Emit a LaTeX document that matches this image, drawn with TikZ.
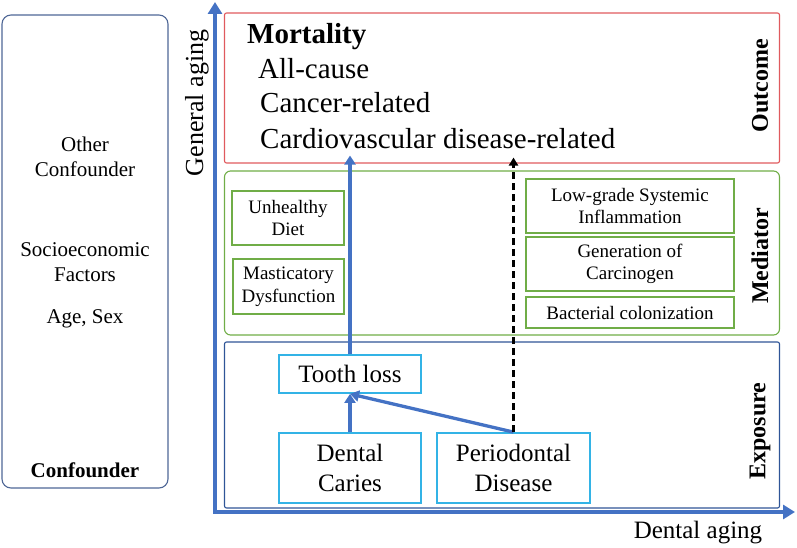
\documentclass[tikz,border=0pt]{standalone}
\usepackage{fontspec}
\setmainfont{LiberationSerif}[Extension=.ttf, UprightFont=*-Regular, BoldFont=*-Bold, ItalicFont=*-Italic, BoldItalicFont=*-BoldItalic]
\usetikzlibrary{arrows.meta}
\definecolor{axisblue}{HTML}{4472C4}
\definecolor{outred}{HTML}{E05A5E}
\definecolor{medgreen}{HTML}{70AD47}
\definecolor{expblue}{HTML}{2F5597}
\definecolor{boxcyan}{HTML}{33B3E6}
\definecolor{confblue}{HTML}{4F6796}
\tikzset{
  panel/.style={draw, line width=1.1pt, inner sep=0pt},
  medbox/.style={draw=medgreen, line width=1.4pt, align=center, inner sep=0pt, font=\rmfamily\fontsize{19}{22.7}\selectfont},
  expbox/.style={draw=boxcyan, line width=1.8pt, align=center, inner sep=0pt, font=\rmfamily\fontsize{25}{30}\selectfont},
  sidelabel/.style={rotate=90, font=\rmfamily\fontsize{24}{28}\selectfont\bfseries},
  outtext/.style={anchor=base west, inner sep=0pt, font=\rmfamily\fontsize{29}{34}\selectfont},
  conftext/.style={align=center, inner sep=0pt, font=\rmfamily\fontsize{21}{25}\selectfont},
  bluearrow/.style={draw=axisblue, line width=3.3pt, -{Triangle[width=11pt,length=9pt]}},
  axisline/.style={draw=axisblue, line width=4.5pt, {Triangle[width=14pt,length=12pt]}-{Triangle[width=14pt,length=12pt]}},
  dasharrow/.style={draw=black, line width=2.4pt, dash pattern=on 7pt off 4pt, -{Triangle[width=9pt,length=8pt]}}
}
\begin{document}
\begin{tikzpicture}[x=1pt,y=-1pt]
\useasboundingbox (0,0) rectangle (797,548);
% confounder
\node[panel, draw=confblue, rounded corners=9pt, minimum width=166pt, minimum height=473pt] (conf) at (85,251.5) {};
\node[conftext] (oth) at (85,157) {Other\\Confounder};
\node[conftext] (soc) at (85,262) {Socioeconomic\\Factors};
\node[conftext, anchor=base] (age) at (85,323) {Age, Sex};
\node[conftext, anchor=base, font=\rmfamily\fontsize{21}{25}\selectfont\bfseries] (conft) at (85,477) {Confounder};
% panels
\node[panel, draw=outred, rounded corners=2pt, minimum width=555pt, minimum height=150pt] (outcome) at (502,88) {};
\node[panel, draw=medgreen, rounded corners=6pt, minimum width=555pt, minimum height=164pt] (mediator) at (502,253) {};
\node[panel, draw=expblue, rounded corners=2pt, minimum width=555pt, minimum height=166pt] (exposure) at (502,425) {};
\node[sidelabel] (lout) at (760,86) {Outcome};
\node[sidelabel] (lmed) at (760,256) {Mediator};
\node[sidelabel] (lexp) at (760,431) {Exposure};
% outcome texts
\node[outtext, font=\rmfamily\fontsize{29}{34}\selectfont\bfseries] (mort) at (247,44) {Mortality};
\node[outtext] (allc) at (258,79) {All-cause};
\node[outtext] (canc) at (260,113) {Cancer-related};
\node[outtext] (card) at (260,149) {Cardiovascular disease-related};
% mediator boxes
\node[medbox, minimum width=112pt, minimum height=54pt] (diet) at (288,218) {Unhealthy\\Diet};
\node[medbox, minimum width=111pt, minimum height=55pt] (mast) at (288.5,286.5) {Masticatory\\Dysfunction};
\node[medbox, minimum width=208pt, minimum height=54pt] (low) at (630,206) {Low-grade Systemic\\Inflammation};
\node[medbox, minimum width=208pt, minimum height=54pt] (gen) at (630,264) {Generation of\\Carcinogen};
\node[medbox, minimum width=208pt, minimum height=31pt] (bact) at (630,312.5) {Bacterial colonization};
% exposure boxes
\node[expbox, minimum width=142pt, minimum height=38pt] (tooth) at (350,374) {Tooth loss};
\node[expbox, minimum width=142pt, minimum height=70pt] (caries) at (350,468) {Dental\\Caries};
\node[expbox, minimum width=153pt, minimum height=70pt] (perio) at (513.5,468) {Periodontal\\Disease};
% axes
\coordinate (O) at (215,512);
\coordinate (ytip) at (215,2);
\coordinate (xtip) at (795,512);
\draw[axisline] (ytip) -- (O) -- (xtip);
\node[rotate=90, inner sep=0pt, font=\rmfamily\fontsize{26}{30}\selectfont] (gen-aging) at (197,103) {General aging};
\node[anchor=base, inner sep=0pt, font=\rmfamily\fontsize{25}{30}\selectfont] (den-aging) at (698,538) {Dental aging};
% connectors
\draw[bluearrow] (caries.north) -- (tooth.south);
\draw[bluearrow] (perio.north) -- (tooth.south);
\draw[bluearrow] (tooth.north) -- ([yshift=8pt]tooth.north |- outcome.south);
\draw[dasharrow] (perio.north) -- ([yshift=6pt]perio.north |- outcome.south);
\end{tikzpicture}
\end{document}
